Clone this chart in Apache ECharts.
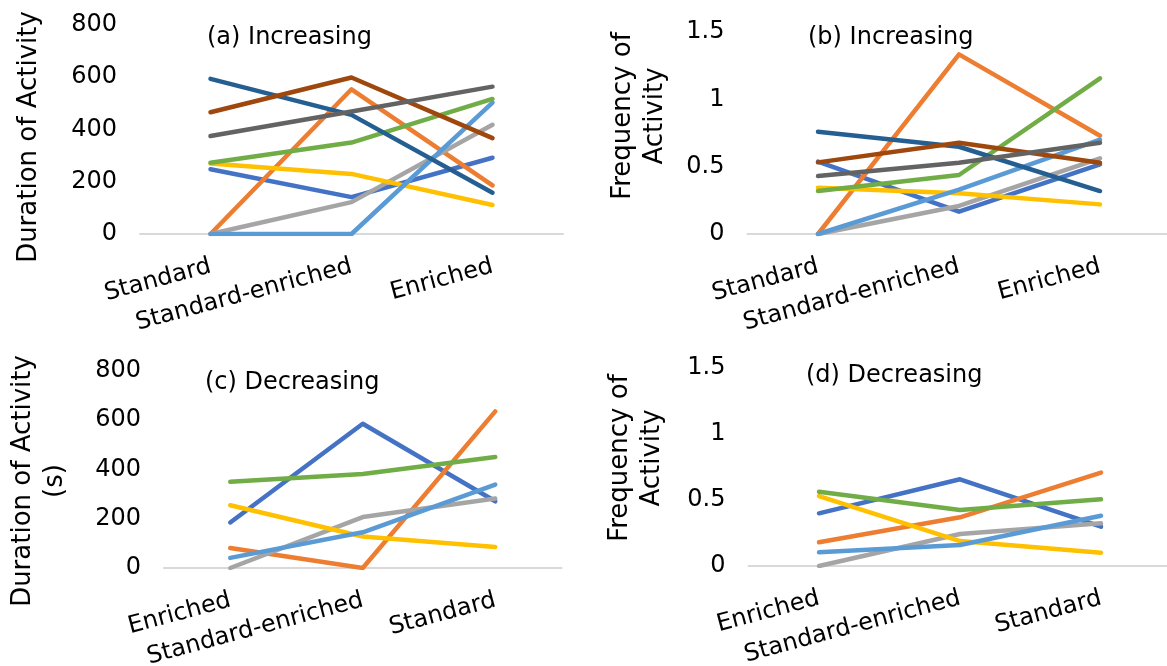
<!DOCTYPE html>
<html>
<head>
<meta charset="utf-8">
<script src="https://cdn.jsdelivr.net/npm/echarts@6/dist/echarts.min.js"></script>
<style>
  html, body { margin: 0; padding: 0; background: #fff; overflow: hidden; }
  #chart { width: 1167px; height: 666px; }
</style>
</head>
<body>
<div id="chart"></div>
<script>
// Housing conditions, in the order each panel reads them
const increasingOrder = ['Standard', 'Standard-enriched', 'Enriched'];
const decreasingOrder = ['Enriched', 'Standard-enriched', 'Standard'];

const durationTicks = [0, 200, 400, 600, 800];
const frequencyTicks = [0, 0.5, 1, 1.5];

// Line colours (Office palette)
const palette = ['#4472C4', '#ED7D31', '#A5A5A5', '#FFC000', '#5B9BD5',
                 '#70AD47', '#255E91', '#9E480E', '#636363'];

// (a) Increasing – duration of activity (s)
const durIncBlue      = [248, 141, 292];
const durIncOrange    = [0, 554, 186];
const durIncGray      = [0, 122, 418];
const durIncYellow    = [270, 230, 111];
const durIncLightBlue = [0, 0, 503];
const durIncGreen     = [273, 350, 517];
const durIncDarkBlue  = [594, 456, 158];
const durIncBrown     = [466, 599, 367];
const durIncDarkGray  = [375, 469, 564];

// (b) Increasing – frequency of activity
const freqIncBlue      = [0.537, 0.166, 0.517];
const freqIncOrange    = [0, 1.334, 0.730];
const freqIncGray      = [0, 0.208, 0.562];
const freqIncYellow    = [0.344, 0.302, 0.220];
const freqIncLightBlue = [0, 0.33, 0.70];
const freqIncGreen     = [0.319, 0.438, 1.156];
const freqIncDarkBlue  = [0.760, 0.648, 0.319];
const freqIncBrown     = [0.532, 0.678, 0.529];
const freqIncDarkGray  = [0.431, 0.529, 0.678];

// (c) Decreasing – duration of activity (s)
const durDecBlue      = [185, 586, 271];
const durDecOrange    = [81, 0, 636];
const durDecGray      = [0, 207, 282];
const durDecYellow    = [255, 128, 85];
const durDecLightBlue = [41, 145, 339];
const durDecGreen     = [350, 382, 451];

// (d) Decreasing – frequency of activity
const freqDecBlue      = [0.399, 0.657, 0.298];
const freqDecOrange    = [0.180, 0.369, 0.708];
const freqDecGray      = [0, 0.242, 0.323];
const freqDecYellow    = [0.530, 0.189, 0.101];
const freqDecLightBlue = [0.104, 0.159, 0.381];
const freqDecGreen     = [0.563, 0.424, 0.505];

const panelData = [
  [durIncBlue, durIncOrange, durIncGray, durIncYellow, durIncLightBlue,
   durIncGreen, durIncDarkBlue, durIncBrown, durIncDarkGray],
  [freqIncBlue, freqIncOrange, freqIncGray, freqIncYellow, freqIncLightBlue,
   freqIncGreen, freqIncDarkBlue, freqIncBrown, freqIncDarkGray],
  [durDecBlue, durDecOrange, durDecGray, durDecYellow, durDecLightBlue, durDecGreen],
  [freqDecBlue, freqDecOrange, freqDecGray, freqDecYellow, freqDecLightBlue, freqDecGreen]
];

const FONT = 'DejaVu Sans';
const grids = [
  { left: 140,   top: 25,  width: 423,   height: 209 },
  { left: 747.5, top: 32,  width: 423,   height: 202 },
  { left: 164,   top: 371, width: 397.5, height: 197 },
  { left: 748.5, top: 368, width: 423,   height: 198 }
].map(g => Object.assign({ outerBoundsMode: 'none', containLabel: false }, g));

const categories = [increasingOrder, increasingOrder, decreasingOrder, decreasingOrder];
const ticks = [durationTicks, frequencyTicks, durationTicks, frequencyTicks];

const xAxes = grids.map((g, i) => ({
  type: 'category',
  gridIndex: i,
  data: categories[i],
  boundaryGap: true,
  axisLine: { show: true, lineStyle: { color: '#d9d9d9', width: 2 } },
  axisTick: { show: false },
  axisLabel: {
    interval: 0, rotate: 15, margin: 32,
    fontFamily: FONT, fontSize: 24, color: '#000'
  }
}));

const yAxes = grids.map((g, i) => {
  const t = ticks[i];
  return {
    type: 'value',
    gridIndex: i,
    min: t[0], max: t[t.length - 1], interval: t[1] - t[0],
    axisLine: { show: false },
    axisTick: { show: false },
    splitLine: { show: false },
    axisLabel: { margin: 23, fontFamily: FONT, fontSize: 24, color: '#000' }
  };
});

const series = [];
panelData.forEach((lines, p) => {
  lines.forEach((vals, k) => {
    series.push({
      type: 'line',
      xAxisIndex: p, yAxisIndex: p,
      data: vals,
      symbol: 'none',
      lineStyle: { color: palette[k], width: 4.5, cap: 'round', join: 'round' },
      itemStyle: { color: palette[k] },
      silent: true,
      animation: false
    });
  });
});

const panelTitles = [
  { text: '(a) Increasing', left: 207, top: 26 },
  { text: '(b) Increasing', left: 808, top: 26 },
  { text: '(c) Decreasing', left: 205, top: 371 },
  { text: '(d) Decreasing', left: 806, top: 364 }
];

// Rotated axis titles
const axisTitles = [
  { lines: ['Duration of Activity'], x: 29, y: 137 },
  { lines: ['Frequency of', 'Activity'], x: 639, y: 116 },
  { lines: ['Duration of Activity', '(s)'], x: 39, y: 481 },
  { lines: ['Frequency of', 'Activity'], x: 636, y: 458 }
];

const graphics = axisTitles.map(t => ({
  type: 'text',
  x: t.x, y: t.y,
  rotation: Math.PI / 2,
  style: {
    text: t.lines.join('\n'),
    fontFamily: FONT, fontSize: 26, fill: '#000',
    align: 'center', verticalAlign: 'middle', lineHeight: 32
  }
}));

const chart = echarts.init(document.getElementById('chart'), null, { renderer: 'canvas' });
chart.setOption({
  animation: false,
  backgroundColor: '#fff',
  title: panelTitles.map(t => ({
    text: t.text, left: t.left, top: t.top, padding: 0,
    textStyle: { fontFamily: FONT, fontSize: 24, fontWeight: 'normal', color: '#000' }
  })),
  grid: grids,
  xAxis: xAxes,
  yAxis: yAxes,
  series: series,
  graphic: graphics
});
</script>
</body>
</html>
